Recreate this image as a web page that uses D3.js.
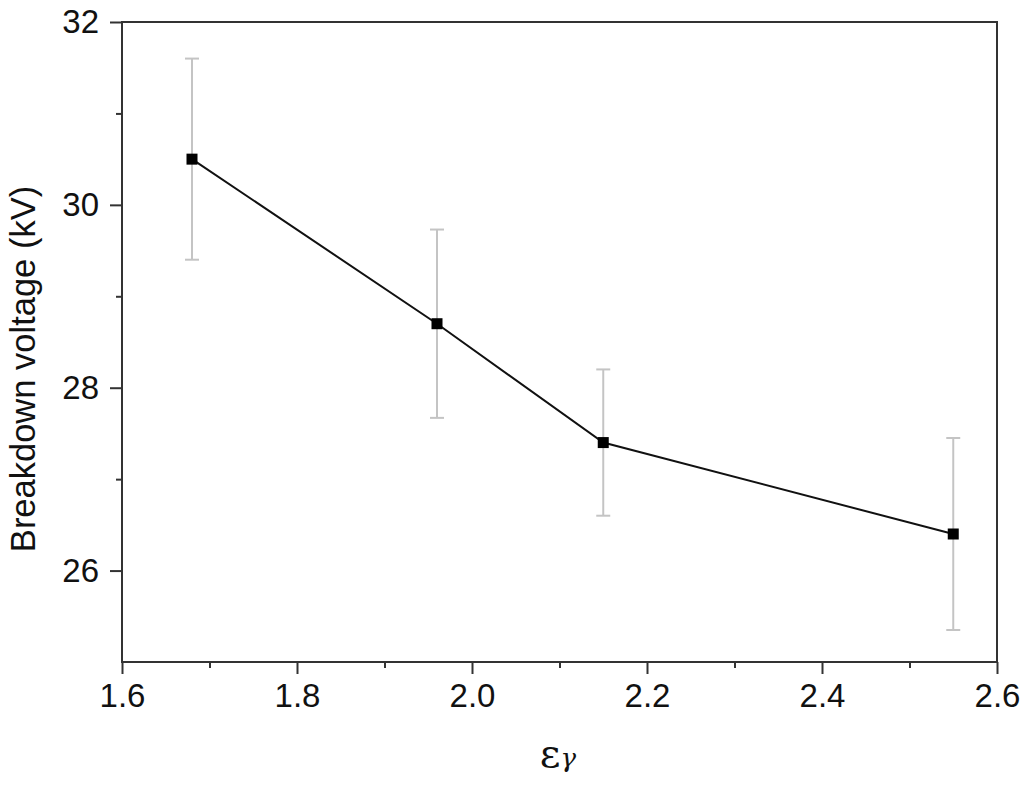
<!DOCTYPE html>
<html><head><meta charset="utf-8">
<script src="https://cdn.jsdelivr.net/npm/d3@7"></script>
<style>body{margin:0;background:#fff}svg{display:block}</style>
</head><body>
<svg id="c" width="1024" height="794"></svg>
<script>
const xValues = [1.68, 1.96, 2.15, 2.55];
const yValues = [30.5, 28.7, 27.4, 26.4];
const yErrors = [1.1, 1.03, 0.8, 1.05];
const xTicks = [1.6, 1.8, 2.0, 2.2, 2.4, 2.6];
const xMinorTicks = [1.7, 1.9, 2.1, 2.3, 2.5];
const yTicks = [26, 28, 30, 32];
const yMinorTicks = [27, 29, 31];
const yLabel = "Breakdown voltage (kV)";

const svg = d3.select("#c");
const L = 122, R = 997, T = 22, B = 662;
const x = d3.scaleLinear().domain([1.6, 2.6]).range([L, R]);
const y = d3.scaleLinear().domain([25, 32]).range([B, T]);
const axisCol = "#333";

// frame
svg.append("rect").attr("x", L).attr("y", T).attr("width", R - L).attr("height", B - T)
  .attr("fill", "none").attr("stroke", axisCol).attr("stroke-width", 2);

// x axis
svg.append("g").attr("transform", `translate(0,${B})`)
  .call(d3.axisBottom(x).tickValues(xTicks).tickSize(12).tickPadding(10).tickFormat(d3.format(".1f")));
svg.append("g").attr("transform", `translate(0,${B})`)
  .call(d3.axisBottom(x).tickValues(xMinorTicks).tickSize(6).tickFormat(""));
// y axis
svg.append("g").attr("transform", `translate(${L},0)`)
  .call(d3.axisLeft(y).tickValues(yTicks).tickSize(12).tickPadding(11).tickFormat(d3.format("d")));
svg.append("g").attr("transform", `translate(${L},0)`)
  .call(d3.axisLeft(y).tickValues(yMinorTicks).tickSize(6).tickFormat(""));

svg.selectAll(".domain").remove();
svg.selectAll(".tick line").attr("stroke", axisCol).attr("stroke-width", 2);
svg.selectAll(".tick text").attr("fill", "#111")
  .style("font-family", "Liberation Sans, Arial, sans-serif").style("font-size", "33px");

// error bars
const data = xValues.map((v, i) => ({x: v, y: yValues[i], e: yErrors[i]}));
const eb = svg.append("g").attr("stroke", "#c4c4c4").attr("stroke-width", 2);
data.forEach(d => {
  eb.append("line").attr("x1", x(d.x)).attr("x2", x(d.x)).attr("y1", y(d.y + d.e)).attr("y2", y(d.y - d.e));
  [d.y + d.e, d.y - d.e].forEach(v => {
    eb.append("line").attr("x1", x(d.x) - 7).attr("x2", x(d.x) + 7).attr("y1", y(v)).attr("y2", y(v));
  });
});

// line
svg.append("path").datum(data)
  .attr("d", d3.line().x(d => x(d.x)).y(d => y(d.y)))
  .attr("fill", "none").attr("stroke", "#111").attr("stroke-width", 2);

// markers
svg.selectAll("rect.m").data(data).enter().append("rect").attr("class", "m")
  .attr("x", d => x(d.x) - 5.5).attr("y", d => y(d.y) - 5.5)
  .attr("width", 11).attr("height", 11).attr("fill", "#000");

// y label
svg.append("text").attr("transform", `translate(35,369) rotate(-90)`)
  .attr("text-anchor", "middle")
  .style("font-family", "Liberation Sans, Arial, sans-serif").style("font-size", "34.5px").attr("fill", "#111")
  .text(yLabel);

// x label
const xl = svg.append("text").attr("x", 558).attr("y", 767).attr("text-anchor", "middle")
  .style("font-family", "DejaVu Serif, serif").attr("fill", "#111");
xl.append("tspan").style("font-size", "40px").text("ε");
xl.append("tspan").style("font-size", "26px").style("font-style", "italic").text("γ");
</script>
</body></html>
